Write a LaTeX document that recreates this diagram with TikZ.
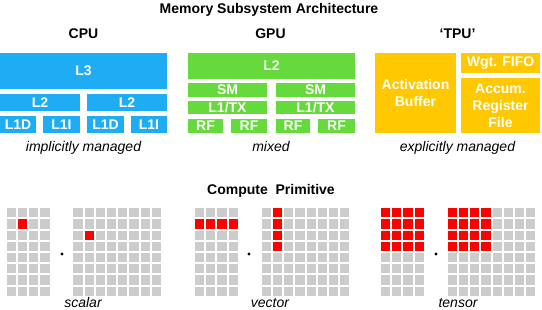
\documentclass[tikz,border=0pt]{standalone}
\usepackage{fontspec}
\setmainfont{Liberation Sans}
\definecolor{cpublue}{RGB}{30,172,245}
\definecolor{gpugreen}{RGB}{102,218,60}
\definecolor{tpuyellow}{RGB}{255,200,0}
\definecolor{cellgray}{RGB}{204,204,204}
\definecolor{cellred}{RGB}{255,0,0}
\newcommand\bx[7]{\node[#2, minimum width={#5pt-#3pt}, minimum height={#6pt-#4pt}, anchor=north west] (#1) at (#3,#4) {#7};}
\newcommand\grid[4]{% x0, y0, cols, rows
  \foreach \ci in {1,...,#3} \foreach \cj in {1,...,#4}
    \fill[cellgray] ({#1+(\ci-1)*11.2},{#2+(\cj-1)*11.2}) rectangle ++(9.2,9.2);}
\newcommand\redcell[3]{\fill[cellred] ({#1},{#2}) ++({#3}) rectangle ++(9.2,9.2);}
\begin{document}
\begin{tikzpicture}[x=1pt,y=-1pt,
  box/.style={inner sep=0pt, outer sep=0pt, text=white, font=\fontsize{14}{17}\selectfont\bfseries, align=center},
  cpu/.style={box, fill=cpublue},
  gpu/.style={box, fill=gpugreen},
  tpu/.style={box, fill=tpuyellow},
  head/.style={anchor=base, inner sep=0pt, font=\fontsize{14}{17}\selectfont\bfseries},
  note/.style={anchor=base, inner sep=0pt, font=\fontsize{14}{17}\selectfont\itshape}]
\useasboundingbox (0,0) rectangle (542,310);
% titles
\node[head] (title) at (269,13.3) {Memory Subsystem Architecture};
\node[head] (cpuh) at (83.5,39) {CPU};
\node[head] (gpuh) at (270.5,39) {GPU};
\node[head] (tpuh) at (457.5,39) {‘TPU’};
% CPU
\bx{l3}{cpu}{0}{53}{167}{89}{L3}
\bx{l2a}{cpu}{0}{94}{80}{111}{L2}
\bx{l2b}{cpu}{87}{94}{167}{111}{L2}
\bx{l1da}{cpu}{0}{116}{36}{133}{L1D}
\bx{l1ia}{cpu}{43}{116}{80}{133}{L1I}
\bx{l1db}{cpu}{87}{116}{124}{133}{L1D}
\bx{l1ib}{cpu}{131}{116}{167}{133}{L1I}
% GPU
\bx{gl2}{gpu}{188}{53}{355}{79}{L2}
\bx{sma}{gpu}{188}{83}{267}{97}{SM}
\bx{smb}{gpu}{276}{83}{355}{97}{SM}
\bx{l1a}{gpu}{188}{101}{267}{114}{L1/TX}
\bx{l1b}{gpu}{276}{101}{355}{114}{L1/TX}
\bx{rf1}{gpu}{188}{119}{223}{133}{RF}
\bx{rf2}{gpu}{231}{119}{267}{133}{RF}
\bx{rf3}{gpu}{276}{119}{310}{133}{RF}
\bx{rf4}{gpu}{318}{119}{355}{133}{RF}
% TPU
\bx{ab}{tpu}{375}{53}{456}{133}{Activation\\Buffer}
\bx{wf}{tpu}{461}{53}{540}{73}{Wgt. FIFO}
\bx{arf}{tpu}{461}{78}{540}{133}{Accum.\\Register\\File}
% notes
\node[note] (n1) at (83.5,152) {implicitly managed};
\node[note] (n2) at (271,152) {mixed};
\node[note] (n3) at (457.5,152) {explicitly managed};
% compute primitive
\node[head] (cp) at (271,195) {Compute\ \ Primitive};
% scalar
\grid{6.7}{208.3}{4}{8}
\grid{73.3}{208.3}{8}{8}
\redcell{6.7}{208.3}{11.2,11.2}
\redcell{73.3}{208.3}{11.2,22.4}
\fill (62,254) circle (1.7);
% vector
\grid{195}{208.3}{4}{8}
\grid{261.7}{208.3}{8}{8}
\foreach \k in {0,...,3} {
  \redcell{195}{208.3}{\k*11.2,11.2}
  \redcell{261.7}{208.3}{11.2,\k*11.2}
}
\fill (249,254) circle (1.7);
% tensor
\grid{381}{208.3}{4}{8}
\grid{447.7}{208.3}{8}{8}
\foreach \k in {0,...,3} \foreach \m in {0,...,3} {
  \redcell{381}{208.3}{\k*11.2,\m*11.2}
  \redcell{447.7}{208.3}{\k*11.2,\m*11.2}
}
\fill (436,254) circle (1.7);
\node[note] (s1) at (83,307.5) {scalar};
\node[note] (s2) at (270,307.5) {vector};
\node[note] (s3) at (458,307.5) {tensor};
\end{tikzpicture}
\end{document}
